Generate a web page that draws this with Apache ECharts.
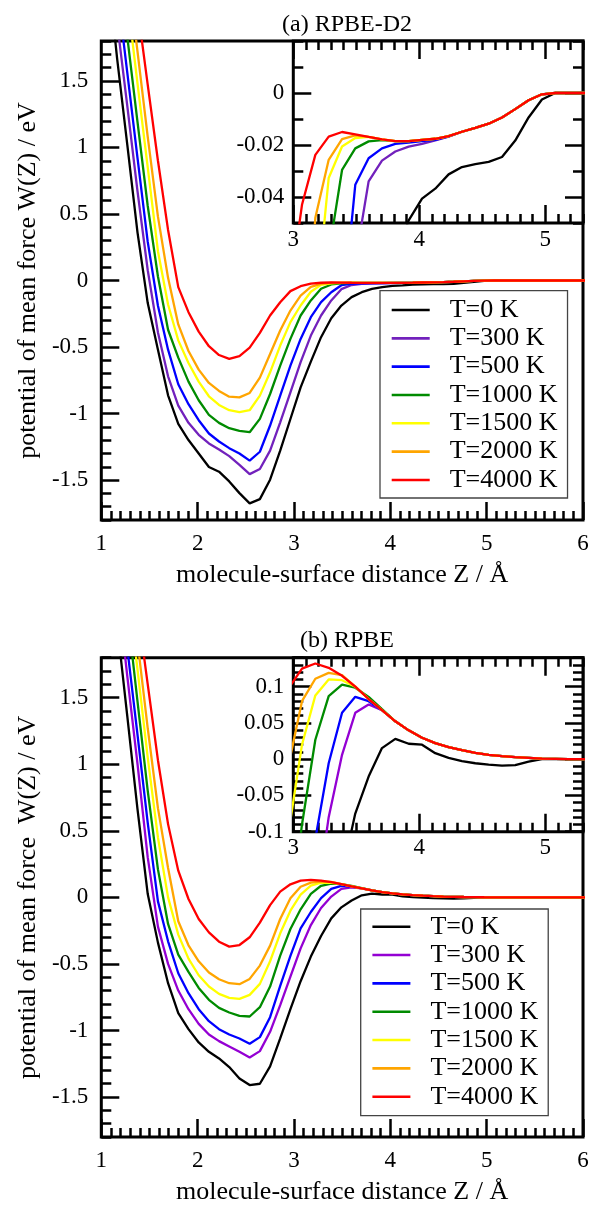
<!DOCTYPE html>
<html><head><meta charset="utf-8">
<script src="https://cdn.jsdelivr.net/npm/echarts@6/dist/echarts.min.js"></script>
<style>html,body{margin:0;padding:0;background:#fff}#c{width:595px;height:1206px}</style>
</head><body><div id="c"></div>
<script>
// molecule-surface distance grid (Å)
const zGrid = [1.058, 1.164, 1.270, 1.376, 1.482, 1.588, 1.693, 1.799, 1.905, 2.011, 2.117, 2.222, 2.328, 2.434, 2.540, 2.646, 2.752, 2.857, 2.963, 3.069, 3.175, 3.281, 3.387, 3.492, 3.598, 3.704, 3.810, 3.916, 4.022, 4.127, 4.233, 4.339, 4.445, 4.551, 4.657, 4.762, 4.868, 4.974, 5.080, 5.186, 5.292, 5.397, 5.503, 5.609, 5.715, 5.821, 5.927, 6.032];
const tempNames = ['T=0 K', 'T=300 K', 'T=500 K', 'T=1000 K', 'T=1500 K', 'T=2000 K', 'T=4000 K'];

// (a) RPBE-D2
const wA_0 = [2.40, 1.67, 1.02, 0.36, -0.17, -0.52, -0.863, -1.078, -1.199, -1.30, -1.402, -1.437, -1.51, -1.598, -1.675, -1.643, -1.497, -1.279, -1.041, -0.803, -0.61, -0.426, -0.284, -0.188, -0.125, -0.088, -0.063, -0.049, -0.0406, -0.0368, -0.0313, -0.0285, -0.0274, -0.0265, -0.0246, -0.0183, -0.0094, -0.0025, 0, 0, 0, 0, 0, 0, 0, 0, 0, 0];
const wA_300 = [2.6, 1.94, 1.31, 0.67, 0.077, -0.39, -0.72, -0.94, -1.07, -1.16, -1.225, -1.27, -1.32, -1.385, -1.455, -1.417, -1.279, -1.066, -0.84, -0.614, -0.414, -0.263, -0.15, -0.065, -0.034, -0.026, -0.0225, -0.0206, -0.0196, -0.0182, -0.0168, -0.0149, -0.0134, -0.0118, -0.0094, -0.0062, -0.0028, -0.0005, 0, 0, 0, 0, 0, 0, 0, 0, 0, 0];
const wA_500 = [2.85, 2.2, 1.56, 0.92, 0.29, -0.19, -0.52, -0.78, -0.93, -1.05, -1.15, -1.21, -1.26, -1.30, -1.354, -1.287, -1.09, -0.865, -0.64, -0.439, -0.276, -0.163, -0.088, -0.0353, -0.0251, -0.0213, -0.0196, -0.0191, -0.0185, -0.018, -0.0167, -0.0149, -0.0134, -0.0118, -0.0094, -0.0062, -0.0028, -0.0005, 0, 0, 0, 0, 0, 0, 0, 0, 0, 0];
const wA_1000 = [3.15, 2.5, 1.83, 1.19, 0.56, 0.03, -0.37, -0.58, -0.76, -0.90, -1.01, -1.07, -1.11, -1.13, -1.14, -1.04, -0.853, -0.64, -0.439, -0.263, -0.15, -0.062, -0.0296, -0.0213, -0.0186, -0.0181, -0.0185, -0.0185, -0.018, -0.0176, -0.0166, -0.0149, -0.0134, -0.0118, -0.0094, -0.0062, -0.0028, -0.0005, 0, 0, 0, 0, 0, 0, 0, 0, 0, 0];
const wA_1500 = [3.45, 2.8, 2.12, 1.48, 0.85, 0.22, -0.18, -0.45, -0.62, -0.76, -0.87, -0.935, -0.975, -0.99, -0.975, -0.865, -0.69, -0.489, -0.313, -0.188, -0.085, -0.0327, -0.0206, -0.0173, -0.0169, -0.0178, -0.0185, -0.0185, -0.018, -0.0176, -0.0166, -0.0149, -0.0134, -0.0118, -0.0094, -0.0062, -0.0028, -0.0005, 0, 0, 0, 0, 0, 0, 0, 0, 0, 0];
const wA_2000 = [3.65, 3.0, 2.35, 1.72, 1.08, 0.48, 0.02, -0.33, -0.53, -0.67, -0.77, -0.83, -0.873, -0.878, -0.845, -0.73, -0.552, -0.376, -0.226, -0.113, -0.048, -0.0257, -0.0177, -0.0163, -0.0169, -0.0178, -0.0185, -0.0185, -0.018, -0.0176, -0.0166, -0.0149, -0.0134, -0.0118, -0.0094, -0.0062, -0.0028, -0.0005, 0, 0, 0, 0, 0, 0, 0, 0, 0, 0];
const wA_4000 = [4.1, 3.1, 2.6, 2.05, 1.47, 0.9, 0.38, -0.05, -0.238, -0.384, -0.494, -0.56, -0.589, -0.569, -0.505, -0.394, -0.263, -0.163, -0.08, -0.043, -0.0238, -0.0168, -0.015, -0.0159, -0.0169, -0.0178, -0.0185, -0.0185, -0.018, -0.0176, -0.0166, -0.0149, -0.0134, -0.0118, -0.0094, -0.0062, -0.0028, -0.0005, 0, 0, 0, 0, 0, 0, 0, 0, 0, 0];

// (b) RPBE
const wB_0 = [2.7, 2.05, 1.36, 0.66, 0.025, -0.34, -0.645, -0.87, -0.99, -1.09, -1.16, -1.21, -1.275, -1.36, -1.41, -1.40, -1.27, -1.06, -0.84, -0.63, -0.445, -0.29, -0.158, -0.075, -0.024, 0.0153, 0.028, 0.0213, 0.02, 0.0083, 0.0019, -0.0028, -0.0056, -0.0074, -0.0088, -0.0083, -0.0032, 0, 0, 0, 0, 0, 0, 0, 0, 0, 0, 0];
const wB_300 = [3.0, 2.35, 1.66, 1.0, 0.30, -0.22, -0.50, -0.70, -0.84, -0.95, -1.03, -1.08, -1.12, -1.16, -1.2025, -1.155, -1.01, -0.81, -0.595, -0.383, -0.208, -0.08, 0.006, 0.064, 0.0755, 0.0676, 0.0523, 0.0398, 0.0296, 0.0222, 0.0167, 0.0125, 0.0088, 0.006, 0.0042, 0.0028, 0.0019, 0.0009, 0.0005, 0, 0, 0, 0, 0, 0, 0, 0, 0];
const wB_500 = [3.3, 2.6, 1.87, 1.22, 0.56, -0.03, -0.33, -0.57, -0.72, -0.84, -0.93, -0.99, -1.03, -1.06, -1.10, -1.05, -0.90, -0.665, -0.44, -0.233, -0.11, -0.0056, 0.064, 0.086, 0.080, 0.0676, 0.0523, 0.0398, 0.0296, 0.0222, 0.0167, 0.0125, 0.0088, 0.006, 0.0042, 0.0028, 0.0019, 0.0009, 0.0005, 0, 0, 0, 0, 0, 0, 0, 0, 0];
const wB_1000 = [3.55, 2.9, 2.15, 1.47, 0.80, 0.21, -0.2, -0.43, -0.56, -0.68, -0.77, -0.83, -0.865, -0.89, -0.895, -0.825, -0.67, -0.4375, -0.2375, -0.09, 0.0268, 0.087, 0.103, 0.0986, 0.086, 0.069, 0.0523, 0.0398, 0.0296, 0.0222, 0.0167, 0.0125, 0.0088, 0.006, 0.0042, 0.0028, 0.0019, 0.0009, 0.0005, 0, 0, 0, 0, 0, 0, 0, 0, 0];
const wB_1500 = [3.75, 3.1, 2.35, 1.71, 1.05, 0.45, 0.0, -0.28, -0.46, -0.585, -0.67, -0.725, -0.755, -0.7625, -0.7325, -0.65, -0.48, -0.27, -0.1, 0.02, 0.088, 0.11, 0.109, 0.10, 0.083, 0.0676, 0.0523, 0.0398, 0.0296, 0.0222, 0.0167, 0.0125, 0.0088, 0.006, 0.0042, 0.0028, 0.0019, 0.0009, 0.0005, 0, 0, 0, 0, 0, 0, 0, 0, 0];
const wB_2000 = [3.95, 3.3, 2.55, 1.92, 1.27, 0.67, 0.22, -0.18, -0.36, -0.48, -0.565, -0.615, -0.645, -0.6525, -0.6125, -0.5125, -0.3625, -0.1625, -0.0075, 0.08, 0.111, 0.119, 0.116, 0.10, 0.083, 0.0676, 0.0523, 0.0398, 0.0296, 0.0222, 0.0167, 0.0125, 0.0088, 0.006, 0.0042, 0.0028, 0.0019, 0.0009, 0.0005, 0, 0, 0, 0, 0, 0, 0, 0, 0];
const wB_4000 = [3.85, 3.3, 2.75, 2.17, 1.6, 1.03, 0.55, 0.20, -0.0125, -0.163, -0.263, -0.333, -0.37, -0.358, -0.30, -0.19, -0.058, 0.043, 0.098, 0.125, 0.132, 0.126, 0.115, 0.10, 0.083, 0.0676, 0.0523, 0.0398, 0.0296, 0.0222, 0.0167, 0.0125, 0.0088, 0.006, 0.0042, 0.0028, 0.0019, 0.0009, 0.0005, 0, 0, 0, 0, 0, 0, 0, 0, 0];

// tick labels
const mainXTicks = [1, 2, 3, 4, 5, 6];
const mainYTicks = [-1.5, -1, -0.5, 0, 0.5, 1, 1.5];
const insetXTicks = [3, 4, 5];
const insetAYTicks = [-0.04, -0.02, 0];
const insetBYTicks = [-0.1, -0.05, 0, 0.05, 0.1];

const colorsA = ['#000000', '#7221BC', '#0000FF', '#008B00', '#FFFF00', '#FFA500', '#FF0000'];
const colorsB = ['#000000', '#9400D3', '#0000FF', '#008B00', '#FFFF00', '#FFA500', '#FF0000'];

const FONT = 'Liberation Serif';
function steps(a, b, s) { const r = []; const n = Math.round((b - a) / s); for (let i = 0; i <= n; i++) r.push(+(a + i * s).toFixed(4)); return r; }

const grids = [
  { left: 101.3, top: 41, width: 481.7, height: 479 },
  { left: 293.3, top: 41, width: 289.7, height: 182 },
  { left: 101.3, top: 657.7, width: 481.7, height: 480.6 },
  { left: 293.3, top: 657.7, width: 289.7, height: 174 }
].map((g, i) => Object.assign(g, { show: true, borderColor: '#000', borderWidth: 3, backgroundColor: (i % 2) ? '#fff' : 'transparent', containLabel: false }));

const xAxes = [], yAxes = [];
function axis(list, gridIndex, position, min, max, values, len, showLabel, margin, extra) {
  list.push(Object.assign({
    type: 'value', gridIndex, position, min, max,
    axisLine: { show: false, onZero: false },
    splitLine: { show: false },
    axisTick: { show: true, inside: true, length: len, customValues: values, lineStyle: { color: '#000', width: 2.5 } },
    axisLabel: { show: showLabel, customValues: values, margin, color: '#000', fontFamily: FONT, fontSize: 23 }
  }, extra || {}));
  return list.length - 1;
}
const nameStyle = { fontFamily: FONT, fontSize: 26, color: '#000' };
function buildPanel(mainG, insetG, yName, insetY, insetYMin, insetYMax) {
  const mx = axis(xAxes, mainG, 'bottom', 1, 6, mainXTicks, 18, true, 12, { name: 'molecule-surface distance Z / Å', nameLocation: 'middle', nameGap: 42, nameTextStyle: nameStyle });
  axis(xAxes, mainG, 'bottom', 1, 6, steps(1, 6, 0.1), 9, false, 8);
  const my = axis(yAxes, mainG, 'left', -1.8, 1.8, mainYTicks, 18, true, 13, { name: yName, nameLocation: 'middle', nameGap: 54, nameRotate: 90, nameTextStyle: nameStyle });
  axis(yAxes, mainG, 'left', -1.8, 1.8, steps(-1.8, 1.8, 0.1), 10, false, 8);
  const ix = axis(xAxes, insetG, 'bottom', 3, 5.3, insetXTicks, 18, true, 5);
  axis(xAxes, insetG, 'bottom', 3, 5.3, steps(3, 5.3, 0.1), 9, false, 8);
  axis(xAxes, insetG, 'top', 3, 5.3, insetXTicks, 18, false, 8);
  axis(xAxes, insetG, 'top', 3, 5.3, steps(3, 5.3, 0.1), 9, false, 8);
  const iy = axis(yAxes, insetG, 'left', insetYMin, insetYMax, insetY, 18, true, 9);
  axis(yAxes, insetG, 'left', insetYMin, insetYMax, steps(insetYMin, insetYMax, 0.01), 10, false, 8);
  axis(yAxes, insetG, 'right', insetYMin, insetYMax, insetY, 18, false, 8);
  axis(yAxes, insetG, 'right', insetYMin, insetYMax, steps(insetYMin, insetYMax, 0.01), 10, false, 8);
  return { mx, my, ix, iy };
}
const pA = buildPanel(0, 1, 'potential of mean force W(Z) / eV', insetAYTicks, -0.05, 0.02);
const pB = buildPanel(2, 3, 'potential of mean force  W(Z) / eV', insetBYTicks, -0.1, 0.14);

const series = [];
function addSeries(valueSets, colors, xi, yi) {
  valueSets.forEach((vals, i) => {
    series.push({
      type: 'line', name: tempNames[i], xAxisIndex: xi, yAxisIndex: yi,
      data: zGrid.map((z, k) => [z, vals[k]]),
      symbol: 'none', showSymbol: false, clip: true, silent: true,
      lineStyle: { color: colors[i], width: 2.3 }, itemStyle: { color: colors[i] }
    });
  });
}
const setA = [wA_0, wA_300, wA_500, wA_1000, wA_1500, wA_2000, wA_4000];
const setB = [wB_0, wB_300, wB_500, wB_1000, wB_1500, wB_2000, wB_4000];
addSeries(setA, colorsA, pA.mx, pA.my);
addSeries(setA, colorsA, pA.ix, pA.iy);
addSeries(setB, colorsB, pB.mx, pB.my);
addSeries(setB, colorsB, pB.ix, pB.iy);

const LINE_ICON = 'path://M0,0H38V2.6H0Z';
function legend(left, top, colors, pad) {
  return {
    left, top, orient: 'vertical', selectedMode: false,
    icon: LINE_ICON, symbolKeepAspect: true,
    data: tempNames.map((n, i) => ({ name: n, icon: LINE_ICON, itemStyle: { color: colors[i], borderWidth: 0 } })),
    itemWidth: 38, itemHeight: 26, itemGap: 2.33,
    padding: pad,
    borderColor: '#444', borderWidth: 1.3, backgroundColor: '#fff',
    textStyle: { fontFamily: FONT, fontSize: 26, color: '#000', padding: [0, 0, 0, 15] }
  };
}

const chart = echarts.init(document.getElementById('c'), null, { renderer: 'canvas' });
chart.setOption({
  animation: false,
  backgroundColor: '#fff',
  title: [
    { text: '(a) RPBE-D2', left: 342, top: 8, textAlign: 'center', textStyle: { fontFamily: FONT, fontSize: 24, fontWeight: 'normal', color: '#000' } },
    { text: '(b) RPBE', left: 342, top: 624, textAlign: 'center', textStyle: { fontFamily: FONT, fontSize: 24, fontWeight: 'normal', color: '#000' } }
  ],
  legend: [legend(380, 290.7, colorsA, [6.3, 10, 5, 11.7]), legend(360.7, 909, colorsB, [4.7, 10, 6, 11.7])],
  grid: grids,
  xAxis: xAxes,
  yAxis: yAxes,
  series
});
</script>
</body></html>
